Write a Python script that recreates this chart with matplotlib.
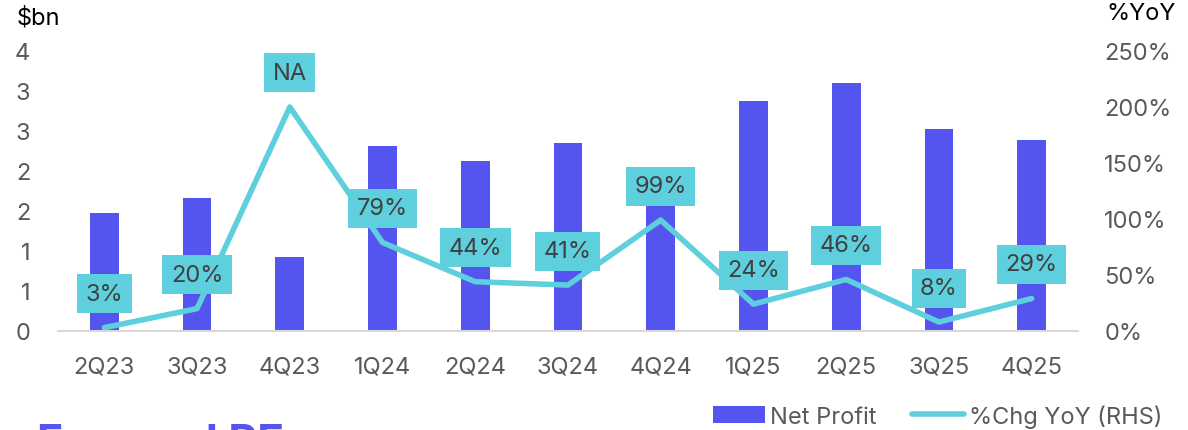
import numpy as np
import matplotlib
matplotlib.use('Agg')
import matplotlib.pyplot as plt
from matplotlib.ticker import FuncFormatter

plt.rcParams['font.family'] = ['Inter', 'DejaVu Sans']

# -----------------------------------------------------------------------------
# Data
# -----------------------------------------------------------------------------
quarters = ['2Q23', '3Q23', '4Q23', '1Q24', '2Q24', '3Q24', '4Q24',
            '1Q25', '2Q25', '3Q25', '4Q25']
net_profit = [1.47, 1.66, 0.92, 2.31, 2.13, 2.35, 1.85, 2.87, 3.10, 2.52, 2.39]
yoy_pct = [3, 20, 200, 79, 44, 41, 99, 24, 46, 8, 29]
yoy_labels = ['3%', '20%', 'NA', '79%', '44%', '41%', '99%', '24%', '46%', '8%', '29%']

bar_color = '#5454EE'
line_color = '#5ECFDD'
tick_color = '#595959'
fs = 17

fig = plt.figure(figsize=(11.88, 4.31), dpi=100)
ax = fig.add_axes([0.0488, 0.2297, 0.8586, 0.6497])
ax2 = ax.twinx()

x = np.arange(len(quarters))
ax.bar(x, net_profit, width=0.31, color=bar_color, label='Net Profit', zorder=2)
ax.set_xlim(-0.5, len(quarters) - 0.5)
ax.set_ylim(0, 3.5)
ax.set_yticks(np.arange(0, 3.51, 0.5))
ax.yaxis.set_major_formatter(FuncFormatter(lambda v, p: '{:d}'.format(int(np.floor(v + 0.5)))))
ax.set_xticks(x)
ax.set_xticklabels(quarters)

ax2.plot(x, yoy_pct, color=line_color, lw=4, solid_capstyle='round',
         label='%Chg YoY (RHS)', zorder=3)
ax2.set_ylim(0, 250)
ax2.set_yticks(np.arange(0, 251, 50))
ax2.yaxis.set_major_formatter(FuncFormatter(lambda v, p: '{:d}%'.format(int(v))))

for xi, yi, lab in zip(x, yoy_pct, yoy_labels):
    ax2.annotate(lab, (xi, yi), xytext=(0, 24.5), textcoords='offset points',
                 ha='center', va='center', fontsize=fs, color='#404040',
                 bbox=dict(boxstyle='square,pad=0.36', fc=line_color, ec='none'),
                 zorder=5)

for a in (ax, ax2):
    for s in a.spines.values():
        s.set_visible(False)
    a.tick_params(length=0, labelsize=fs, colors=tick_color)
ax.spines['bottom'].set_visible(True)
ax.spines['bottom'].set_color('#D9D9D9')
ax.spines['bottom'].set_linewidth(1.5)
ax.tick_params(axis='y', pad=20)
ax.tick_params(axis='x', pad=18)
ax2.tick_params(axis='y', pad=19)

fig.text(17 / 1188, 1 - 18 / 431, '$bn', fontsize=fs, color='black', va='center')
fig.text(1106 / 1188, 1 - 14 / 431, '%YoY', fontsize=fs, color='black', va='center')

# heading of the next chart, cut off at the bottom edge
fig.text(37 / 1188, 1 - 424 / 431, 'Forward PE', fontsize=32, fontweight='bold',
         color=bar_color, va='top')

h1, l1 = ax.get_legend_handles_labels()
h2, l2 = ax2.get_legend_handles_labels()
fig.legend(h1 + h2, l1 + l2, loc='center right', bbox_to_anchor=(1162 / 1188, 1 - 417 / 431),
           ncol=2, frameon=False, fontsize=fs, labelcolor=tick_color,
           handlelength=2.2, handleheight=0.7, handletextpad=0.2, columnspacing=1.5,
           borderaxespad=0, borderpad=0)

fig.savefig('out.png', dpi=100)
